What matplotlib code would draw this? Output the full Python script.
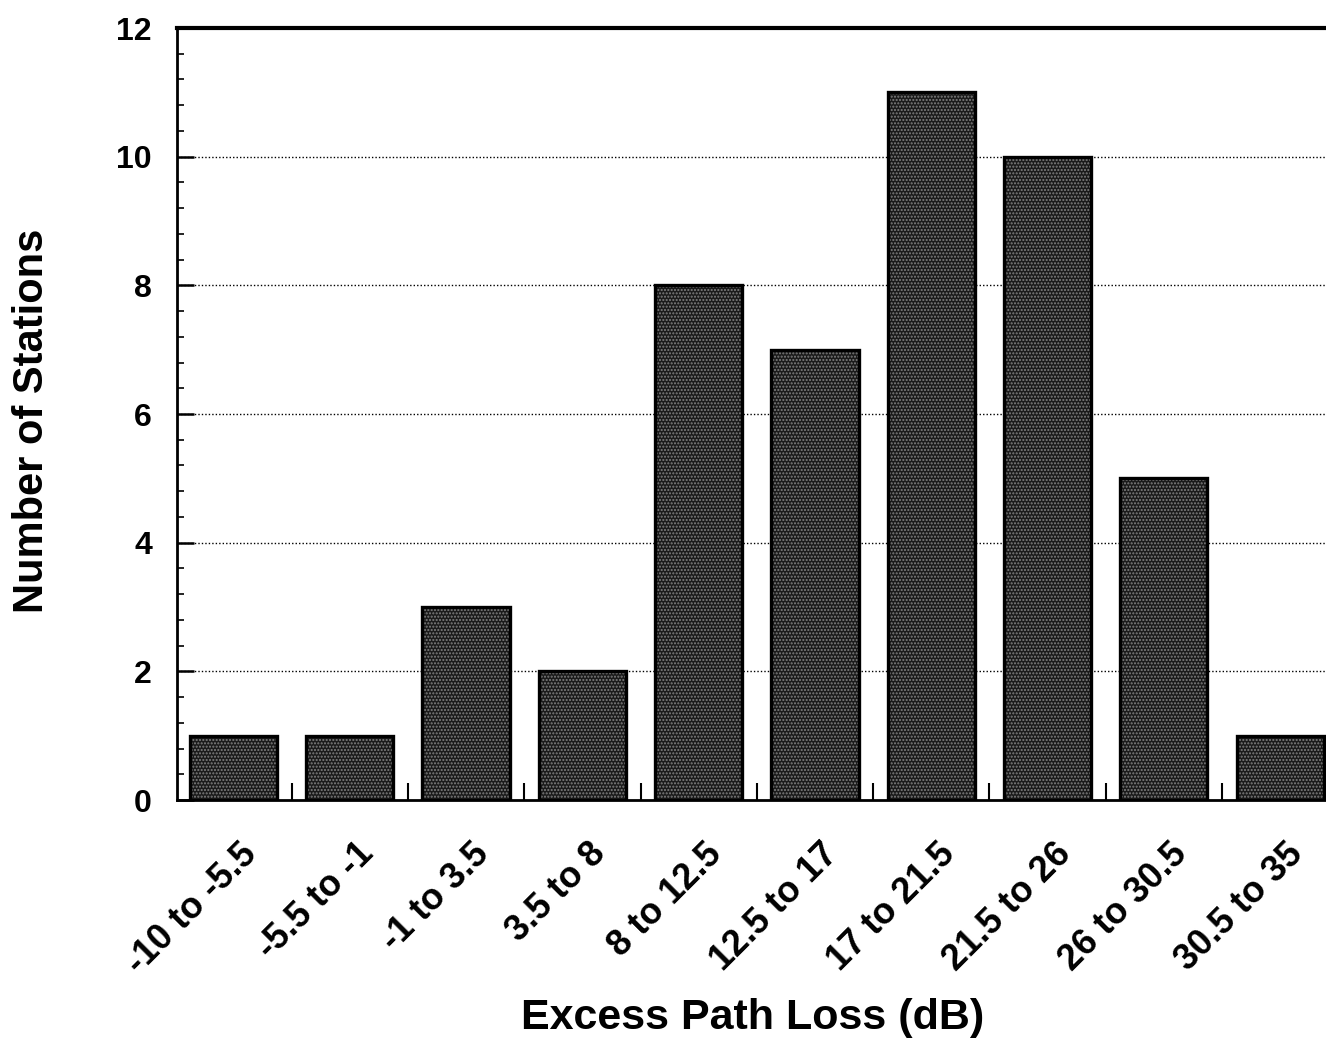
import matplotlib
matplotlib.use("Agg")
import matplotlib.pyplot as plt
import matplotlib.transforms as mtransforms
from matplotlib.ticker import MultipleLocator, FixedLocator
import numpy as np

categories = ["-10 to -5.5", "-5.5 to -1", "-1 to 3.5", "3.5 to 8", "8 to 12.5",
              "12.5 to 17", "17 to 21.5", "21.5 to 26", "26 to 30.5", "30.5 to 35"]
stations = [1, 1, 3, 2, 8, 7, 11, 10, 5, 1]
y_ticks = [0, 2, 4, 6, 8, 10, 12]

plt.rcParams['font.family'] = ['Liberation Sans', 'DejaVu Sans']
plt.rcParams['font.weight'] = 'bold'
plt.rcParams['hatch.linewidth'] = 1.0

fig = plt.figure(figsize=(13.26, 10.52), dpi=100)
ax = fig.add_axes([177/1326, 1 - 800/1052, 1 - 177/1326, (800 - 28)/1052])

x = np.arange(len(categories))
ax.bar(x, stations, width=0.75, color='#1a1a1a', edgecolor='#808080',
       hatch='.....', linewidth=0, zorder=3)
ax.bar(x, stations, width=0.75, facecolor='none', edgecolor='black',
       linewidth=2.4, zorder=4)

ax.set_xlim(-0.486, 9.394)
ax.set_ylim(0, 12)

ax.set_yticks(y_ticks)
ax.yaxis.set_minor_locator(MultipleLocator(0.4))
ax.tick_params(axis='y', which='major', direction='in', length=12, width=1.8,
               labelsize=23, pad=18)
ax.tick_params(axis='y', which='minor', direction='in', length=5, width=1.2)

ax.set_xticks(x)
ax.set_xticklabels(categories, rotation=45, ha='right', va='center',
                   rotation_mode='anchor', fontsize=26, fontweight='bold')
ax.xaxis.set_minor_locator(FixedLocator(np.arange(0.5, 9, 1.0)))
ax.tick_params(axis='x', which='major', length=0, pad=35)
ax.tick_params(axis='x', which='minor', direction='in', length=12, width=1.5)
offset = mtransforms.ScaledTranslation(18/100, 0, fig.dpi_scale_trans)
for lab in ax.get_xticklabels():
    lab.set_transform(lab.get_transform() + offset)

for v in [2, 4, 6, 8, 10]:
    ax.axhline(v, color='black', linestyle=(0, (1, 1.5)), linewidth=1.0, zorder=1)

ax.spines['top'].set_linewidth(3.0)
ax.spines['left'].set_linewidth(2.0)
ax.spines['bottom'].set_linewidth(2.0)
ax.spines['right'].set_visible(False)

ax.set_xlabel("Excess Path Loss (dB)", fontsize=31, fontweight='bold')
ax.set_ylabel("Number of Stations", fontsize=30, fontweight='bold')
ax.yaxis.set_label_coords(-(177 - 52) / 1149, (421 - 28) / 772 * -1 + 1)
ax.xaxis.set_label_coords((753 - 177) / 1149, -(998 - 800) / 772)

fig.savefig("out.png", dpi=100)
